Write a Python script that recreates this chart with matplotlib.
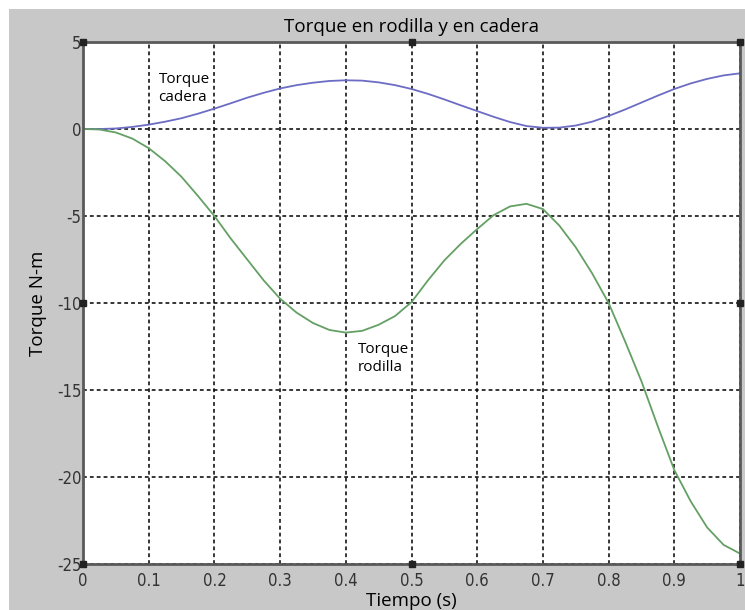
import matplotlib
matplotlib.use('Agg')
import matplotlib.pyplot as plt
from matplotlib.patches import Rectangle
import numpy as np

# tiempo (s), paso de 0.025
tiempo = np.arange(0, 41) * 0.025

# torque en cadera (N-m)
torque_cadera = [0.0, 0.0, 0.03, 0.12, 0.25, 0.42, 0.62, 0.88, 1.17, 1.48,
                 1.8, 2.08, 2.33, 2.52, 2.66, 2.76, 2.8, 2.78, 2.68, 2.52,
                 2.3, 2.02, 1.7, 1.36, 1.03, 0.7, 0.4, 0.17, 0.07, 0.08,
                 0.2, 0.42, 0.75, 1.12, 1.52, 1.92, 2.3, 2.62, 2.88, 3.08,
                 3.2]

# torque en rodilla (N-m)
torque_rodilla = [0.0, -0.03, -0.2, -0.55, -1.1, -1.85, -2.75, -3.85, -5.0, -6.3,
                  -7.5, -8.7, -9.75, -10.55, -11.15, -11.55, -11.7, -11.6, -11.25, -10.75,
                  -9.95, -8.7, -7.55, -6.6, -5.75, -4.95, -4.45, -4.3, -4.6, -5.55,
                  -6.8, -8.3, -10.0, -12.2, -14.5, -17.1, -19.6, -21.4, -22.9, -23.9,
                  -24.4]

xticks = [0, 0.1, 0.2, 0.3, 0.4, 0.5, 0.6, 0.7, 0.8, 0.9, 1]
xticklabels = ['0', '0.1', '0.2', '0.3', '0.4', '0.5', '0.6', '0.7', '0.8', '0.9', '1']
yticks = [5, 0, -5, -10, -15, -20, -25]
yticklabels = ['5', '0', '-5', '-10', '-15', '-20', '-25']

plt.rcParams['font.family'] = ['Open Sans', 'DejaVu Sans']
plt.rcParams['axes.unicode_minus'] = False

fig = plt.figure(figsize=(7.45, 6.1), dpi=100, facecolor='white')
# fondo gris de la ventana
fig.patches.append(Rectangle((9 / 745, 0), 1, 1 - 9 / 610, transform=fig.transFigure,
                             facecolor='#c8c8c8', edgecolor='none', zorder=-10))

ax = fig.add_axes([83 / 745, 46 / 610, 657 / 745, 522 / 610])
ax.set_facecolor('white')

ax.plot(tiempo, torque_cadera, color='#6c6cc4', lw=1.3)
ax.plot(tiempo, torque_rodilla, color='#64a064', lw=1.3)

ax.set_xlim(0, 1)
ax.set_ylim(-25, 5)
ax.set_xticks(xticks)
ax.set_xticklabels(xticklabels)
ax.set_yticks(yticks)
ax.set_yticklabels(yticklabels)

for lab in ax.get_xticklabels() + ax.get_yticklabels():
    lab.set_fontfamily(['DejaVu Sans'])
    lab.set_fontstretch('condensed')
    lab.set_fontsize(12)
    lab.set_color('#333333')
ax.tick_params(axis='x', length=0, pad=6)
ax.tick_params(axis='y', length=0, pad=1)

ax.grid(True, color='black', linestyle=(0, (2.5, 2)), lw=1.1)
for s in ax.spines.values():
    s.set_color('#5a5a5a')
    s.set_linewidth(2)

# manejadores de seleccion (cuadritos negros)
for hx, hy in [(0, 0), (0.5, 0), (1, 0), (0, 0.5), (1, 0.5), (0, 1), (0.5, 1), (1, 1)]:
    ax.plot(hx, hy, marker='s', ms=4.5, color='#222222', transform=ax.transAxes,
            clip_on=False, zorder=5)

ax.set_title('Torque en rodilla y en cadera', fontsize=13.5, pad=7)
ax.set_xlabel('Tiempo (s)', fontsize=13.5, labelpad=1)
ax.set_ylabel('Torque N-m', fontsize=13.5, labelpad=7)

ax.text(0.115, 3.25, 'Torque\ncadera', fontsize=11, va='top', ha='left',
        linespacing=1.25, bbox=dict(facecolor='white', edgecolor='none', pad=1))
ax.text(0.418, -12.25, 'Torque\nrodilla', fontsize=11, va='top', ha='left',
        linespacing=1.25, bbox=dict(facecolor='white', edgecolor='none', pad=1))

fig.savefig('out.png', dpi=100, facecolor=fig.get_facecolor())
